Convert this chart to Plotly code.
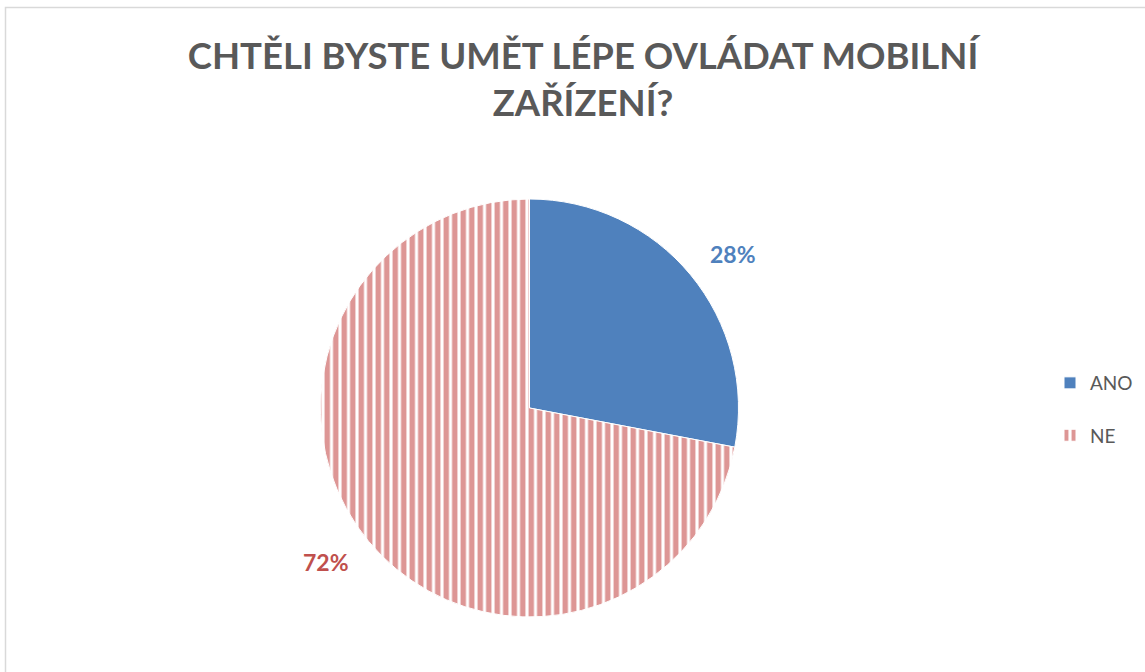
import math
import plotly.graph_objects as go

labels = ["ANO", "NE"]
values = [28, 72]
slice_colors = ["#4F81BD", "#DD9695"]
label_colors = ["#4F81BD", "#C0504D"]
title_text = "CHTĚLI BYSTE UMĚT LÉPE OVLÁDAT MOBILNÍ<br>ZAŘÍZENÍ?"

W, H = 1145, 672
cx, cy, r = 529.5, 408, 209
FONT = "Lato, Carlito, Calibri, sans-serif"
LABEL_GAP = 46          # px outside the pie edge
LABEL_ANGLE_SHIFT = 2.5  # degrees, clockwise

# legend entries get an empty second line to reproduce the wide row spacing
legend_labels = [f"{lab}<br> " for lab in labels]

fig = go.Figure()
fig.add_trace(go.Pie(
    labels=legend_labels,
    values=values,
    customdata=labels,
    sort=False,
    direction="clockwise",
    rotation=0,
    textinfo="none",
    hovertemplate="%{customdata}: %{percent}<extra></extra>",
    marker=dict(
        colors=[slice_colors[0], "#FFFFFF"],
        line=dict(color="#FFFFFF", width=1),
        pattern=dict(
            shape=["", "|"],
            fgcolor=slice_colors,
            bgcolor=[slice_colors[0], "#FFFFFF"],
            fgopacity=1,
            size=8.5,
            solidity=0.64,
            fillmode="replace",
        ),
    ),
    domain=dict(x=[(cx - r) / W, (cx + r) / W], y=[(H - cy - r) / H, (H - cy + r) / H]),
))

# data labels at the mid-angle of each slice, outside the pie
total = sum(values)
annotations = []
cum = 0
for v, c in zip(values, label_colors):
    mid = (cum + v / 2) / total * 2 * math.pi + math.radians(LABEL_ANGLE_SHIFT)
    cum += v
    d = r + LABEL_GAP
    x = cx + d * math.sin(mid)
    y = cy - d * math.cos(mid)
    annotations.append(dict(
        x=x / W, y=1 - y / H, xref="paper", yref="paper",
        xanchor="center", yanchor="middle",
        text=f"<b>{round(v / total * 100)}%</b>", showarrow=False,
        font=dict(family=FONT, size=23, color=c),
    ))

fig.update_layout(
    width=W, height=H,
    paper_bgcolor="white",
    plot_bgcolor="white",
    margin=dict(l=0, r=0, t=0, b=0),
    title=dict(
        text=f"<b>{title_text}</b>",
        x=583 / W, xanchor="center",
        y=1 - 69 / H, yanchor="top",
        font=dict(family=FONT, size=36.5, color="#595959"),
    ),
    legend=dict(
        x=1050 / W, y=1 - 364 / H, xanchor="left", yanchor="top",
        font=dict(family=FONT, size=19, color="#595959"),
        itemwidth=30,
        valign="top",
    ),
    annotations=annotations,
    shapes=[dict(
        type="rect", xref="paper", yref="paper",
        x0=5.5 / W, x1=1.02, y0=-0.02, y1=1 - 7.5 / H,
        line=dict(color="#D9D9D9", width=1.5),
        fillcolor="rgba(0,0,0,0)",
    )],
)

fig.write_html(
    "out.html",
    config={"displayModeBar": False},
    post_script="document.body.style.margin='0';document.body.style.overflow='hidden';",
)
